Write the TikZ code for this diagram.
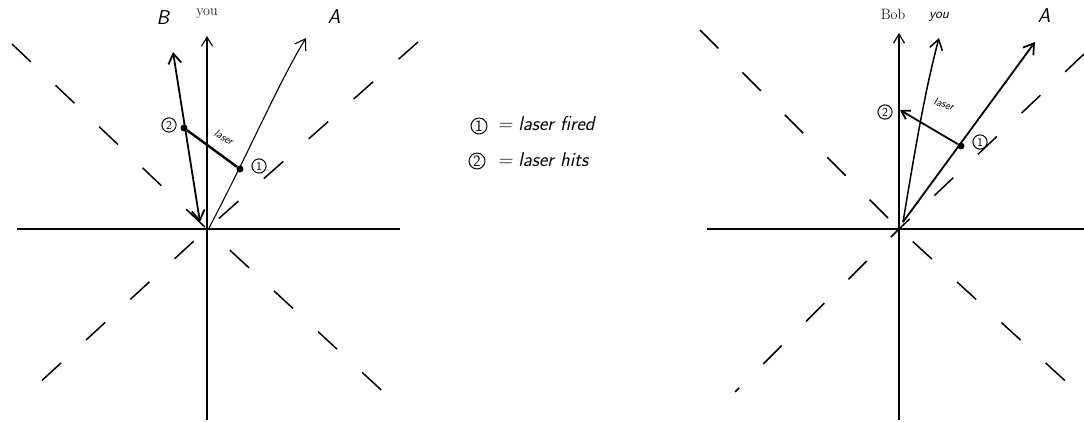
\documentclass[tikz,border=0pt]{standalone}
\usetikzlibrary{arrows.meta}
\begin{document}
\begin{tikzpicture}[x=1pt,y=-1pt,
  axis/.style={line width=1.2pt},
  cone/.style={line width=1.5pt,dash pattern=on 26pt off 34pt},
  world/.style={line width=1.8pt,-{Straight Barb[length=10pt,width=13pt]}},
  dot/.style={circle,fill,inner sep=0pt,minimum size=7pt},
  num/.style={circle,draw,line width=1pt,inner sep=1.5pt,font=\fontsize{12}{13}\selectfont\sffamily},
  hand/.style={font=\fontsize{20}{22}\selectfont\itshape\sffamily},
  lbl/.style={font=\fontsize{15}{17}\selectfont}]
\useasboundingbox (0,0) rectangle (1084,422);
% ---------- left diagram ----------
\coordinate (O1) at (207,229);
\coordinate (L1) at (17,229); \coordinate (R1) at (400,229);
\coordinate (D1) at (207,420); \coordinate (U1) at (207,36);
\draw[axis] (L1) -- (R1);
\draw[axis,-{Straight Barb[length=9pt,width=11pt]}] (D1) -- (U1);
\coordinate (c1a) at (12,44); \coordinate (c1b) at (405,412);
\coordinate (c1c) at (418,42); \coordinate (c1d) at (37,385);
\draw[cone] (c1a) -- (O1) -- (c1b);
\draw[cone] (c1c) -- (O1) -- (c1d);
\coordinate (B1s) at (200,222); \coordinate (B1e) at (173,52);
\draw[world,{Straight Barb[length=10pt,width=13pt]}-{Straight Barb[length=10pt,width=13pt]}] (B1s) -- (B1e);
\coordinate (A1s) at (209,228); \coordinate (A1e) at (306,38);
\draw[world,line width=1.1pt] (A1s) .. controls (250,150) and (280,80) .. (A1e);
\node[dot] (p1) at (240,169) {};
\node[dot] (p2) at (184,128) {};
\draw[line width=2.4pt] (p2) -- (p1);
\node[num] (n1) at (259,166) {1};
\node[num] (n2) at (169,125) {2};
\node[rotate=-30,font=\fontsize{11}{12}\selectfont\itshape\sffamily] (las1) at (224,137) {laser};
\node[lbl] (you1) at (207,14) {you};
\node[hand] (B1) at (163,18) {B};
\node[hand] (A1) at (334,17) {A};
% ---------- legend ----------
\node[num,font=\fontsize{16}{17}\selectfont\sffamily,inner sep=1pt] (k1) at (479,126) {1};
\node[num,font=\fontsize{16}{17}\selectfont\sffamily,inner sep=1pt] (k2) at (477,161) {2};
\node[hand,anchor=west] (t1) at (494,124) {= laser fired};
\node[hand,anchor=west] (t2) at (494,160) {= laser hits};
% ---------- right diagram ----------
\coordinate (O2) at (899,229);
\coordinate (L2) at (707,229); \coordinate (R2) at (1084,229);
\coordinate (D2) at (899,420); \coordinate (U2) at (899,33);
\draw[axis] (L2) -- (R2);
\draw[axis,-{Straight Barb[length=9pt,width=11pt]}] (D2) -- (U2);
\coordinate (c2a) at (700,30); \coordinate (c2b) at (1084,398);
\coordinate (c2c) at (1084,54); \coordinate (c2d) at (735,392);
\draw[cone] (c2a) -- (O2) -- (c2b);
\draw[cone] (c2c) -- (O2) -- (c2d);
\coordinate (S2) at (903,222);
\coordinate (A2e) at (1035,42);
\coordinate (Y2e) at (939,38);
\draw[world] (S2) -- (A2e);
\draw[world,line width=1.5pt] (S2) .. controls (915,150) and (925,90) .. (Y2e);
\node[dot] (q1) at (961,146) {};
\coordinate (q2) at (900,110);
\draw[line width=1.8pt,-{Straight Barb[length=8pt,width=10pt]}] (q1) -- (q2);
\node[num] (m1) at (980,142) {1};
\node[num] (m2) at (885,112) {2};
\node[rotate=-18,font=\fontsize{11}{12}\selectfont\itshape\sffamily] (las2) at (944,104) {laser};
\node[lbl] (bob) at (893,14) {Bob};
\node[font=\fontsize{14}{15}\selectfont\itshape\sffamily] (you2) at (939,17) {you};
\node[hand] (A2) at (1044,16) {A};
\end{tikzpicture}
\end{document}
